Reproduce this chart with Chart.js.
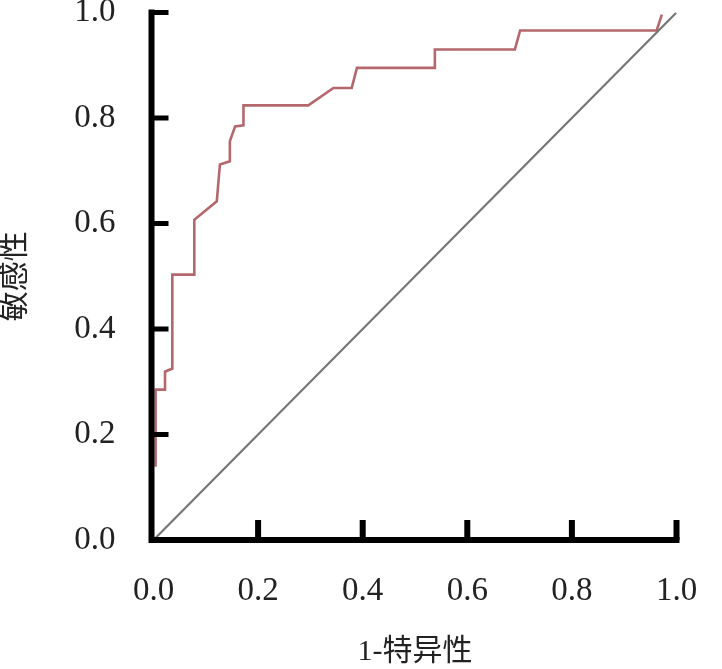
<!DOCTYPE html>
<html lang="zh">
<head>
    <meta charset="UTF-8">
    <title>ROC</title>
    <script src="https://cdn.jsdelivr.net/npm/chart.js"></script>
    <style>
        html, body { margin: 0; padding: 0; background: #fff; }
        canvas { display: block; }
    </style>
</head>
<body>
    <canvas id="rocChart" width="722" height="669"></canvas>
    <script>
        // 1-特异性 / 敏感性
        const rocX = [0.004, 0.004, 0.022, 0.022, 0.036, 0.036, 0.078, 0.078, 0.121, 0.127, 0.146, 0.146, 0.156, 0.172, 0.172, 0.296, 0.344, 0.379, 0.389, 0.538, 0.538, 0.691, 0.701, 0.962, 0.972];
        const rocY = [0.139, 0.285, 0.285, 0.319, 0.325, 0.503, 0.503, 0.607, 0.642, 0.712, 0.718, 0.756, 0.784, 0.786, 0.824, 0.824, 0.857, 0.857, 0.895, 0.895, 0.930, 0.930, 0.966, 0.966, 0.996];
        const refX = [0, 1];
        const refY = [0, 1];
        const tickValues = [0, 0.2, 0.4, 0.6, 0.8, 1.0];
        const xTitle = '1-特异性';
        const yTitle = '敏感性';

        const numFont = { family: '"Liberation Serif", "Noto Sans CJK SC"', size: 33 };
        const titleFont = { family: '"Liberation Serif", "Noto Sans CJK SC"', size: 30, lineHeight: 1 };

        // thick axes with inward ticks
        const axesPlugin = {
            id: 'axesPlugin',
            afterDraw(chart) {
                const ctx = chart.ctx;
                const xs = chart.scales.x, ys = chart.scales.y;
                const left = xs.getPixelForValue(0), bottom = ys.getPixelForValue(0);
                ctx.save();
                ctx.strokeStyle = '#000';
                ctx.lineCap = 'butt';
                ctx.lineWidth = 6;
                ctx.beginPath();
                ctx.moveTo(left - 2, ys.getPixelForValue(1) - 3);
                ctx.lineTo(left - 2, bottom + 3);
                ctx.moveTo(left - 5, bottom);
                ctx.lineTo(xs.getPixelForValue(1) + 3, bottom);
                ctx.stroke();
                ctx.lineWidth = 5;
                ctx.beginPath();
                tickValues.forEach(v => {
                    if (v === 0) return;
                    const py = ys.getPixelForValue(v);
                    ctx.moveTo(left, py);
                    ctx.lineTo(left + 15, py);
                });
                ctx.stroke();
                ctx.lineWidth = 6;
                ctx.beginPath();
                tickValues.forEach(v => {
                    if (v === 0) return;
                    const px = xs.getPixelForValue(v);
                    ctx.moveTo(px, bottom);
                    ctx.lineTo(px, bottom - 20);
                });
                ctx.stroke();
                ctx.restore();
            }
        };

        new Chart(document.getElementById('rocChart'), {
            type: 'scatter',
            data: {
                datasets: [
                    {
                        data: refX.map((x, i) => ({ x: x, y: refY[i] })),
                        showLine: true,
                        borderColor: '#767676',
                        borderWidth: 2.2,
                        pointRadius: 0
                    },
                    {
                        data: rocX.map((x, i) => ({ x: x, y: rocY[i] })),
                        showLine: true,
                        borderColor: '#b4686e',
                        borderWidth: 2.6,
                        pointRadius: 0
                    }
                ]
            },
            options: {
                responsive: false,
                animation: false,
                devicePixelRatio: 1,
                layout: { padding: { top: 12.5, right: 45.5, left: 0, bottom: 0 } },
                plugins: {
                    legend: { display: false },
                    tooltip: { enabled: false }
                },
                scales: {
                    x: {
                        type: 'linear',
                        min: 0,
                        max: 1,
                        afterFit(scale) {
                            scale.height = 129;
                            scale.paddingLeft = 0;
                            scale.paddingRight = 0;
                        },
                        afterBuildTicks(scale) { scale.ticks = tickValues.map(v => ({ value: v })); },
                        grid: { display: false },
                        border: { display: false },
                        ticks: {
                            font: numFont,
                            color: '#222',
                            padding: 24,
                            maxRotation: 0,
                            callback: v => v.toFixed(1)
                        },
                        title: {
                            display: true,
                            text: xTitle,
                            font: titleFont,
                            color: '#222',
                            padding: { top: 0, bottom: 2 }
                        }
                    },
                    y: {
                        type: 'linear',
                        min: 0,
                        max: 1,
                        afterFit(scale) {
                            scale.width = 153.5;
                            scale.paddingTop = 0;
                            scale.paddingBottom = 0;
                        },
                        afterBuildTicks(scale) { scale.ticks = tickValues.map(v => ({ value: v })); },
                        grid: { display: false },
                        border: { display: false },
                        ticks: {
                            font: numFont,
                            color: '#222',
                            padding: 30,
                            callback: v => v.toFixed(1)
                        },
                        title: {
                            display: true,
                            text: yTitle,
                            font: titleFont,
                            color: '#222',
                            padding: { top: 1, bottom: 0 }
                        }
                    }
                }
            },
            plugins: [axesPlugin]
        });
    </script>
</body>
</html>
